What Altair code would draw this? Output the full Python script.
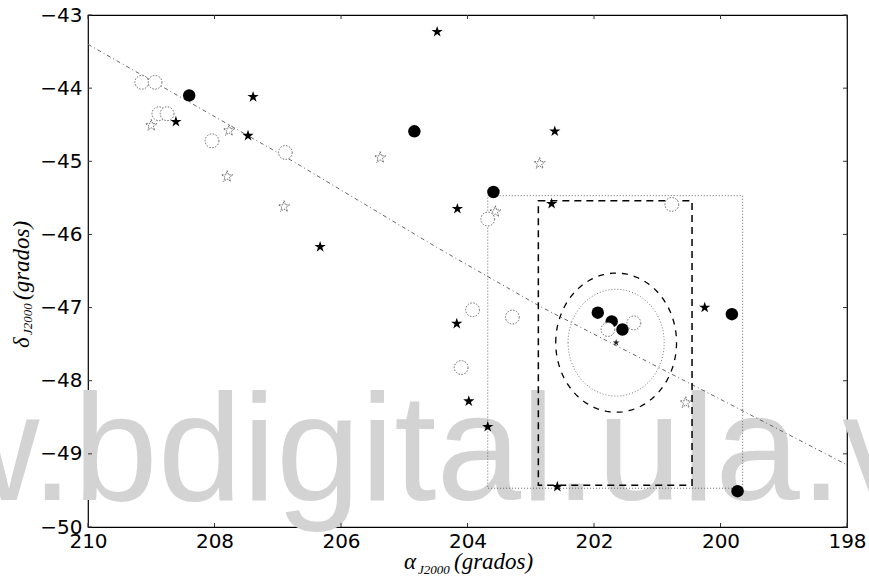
import math
import numpy as np
import pandas as pd
import altair as alt

# ---------------- catalogue positions (degrees, J2000) ----------------
filled_circle_ra = [208.40, 204.84, 203.59, 199.82, 199.73, 201.94, 201.72, 201.55]
filled_circle_dec = [-44.10, -44.59, -45.42, -47.09, -49.51, -47.07, -47.19, -47.30]

open_circle_ra = [209.15, 208.94, 208.88, 208.75, 208.04, 206.88, 203.68,
                  200.77, 203.92, 203.29, 204.10, 201.78, 201.37]
open_circle_dec = [-43.92, -43.92, -44.35, -44.35, -44.72, -44.88, -45.79,
                   -45.59, -47.03, -47.13, -47.82, -47.30, -47.21]

filled_star_ra = [208.61, 207.39, 207.47, 206.33, 204.48, 202.62, 202.67,
                  204.16, 204.17, 200.25, 203.98, 203.68, 202.58]
filled_star_dec = [-44.46, -44.12, -44.65, -46.17, -43.23, -44.59, -45.58,
                   -45.65, -47.22, -47.00, -48.28, -48.63, -49.45]

open_star_ra = [209.00, 207.77, 207.80, 206.90, 205.38, 202.86, 203.56, 200.55]
open_star_dec = [-44.51, -44.58, -45.21, -45.62, -44.95, -45.03, -45.69, -48.30]

# cluster centre
centre_ra = [201.65]
centre_dec = [-47.48]

# circular regions around the centre (RA radius, Dec radius)
region_dashed_r = [0.955, 0.951]
region_dotted_r = [0.76, 0.73]

# rectangular fields: [ra_left, ra_right], [dec_top, dec_bottom]
field_dotted_ra = [203.68, 199.65]
field_dotted_dec = [-45.47, -49.47]
field_dashed_ra = [202.88, 200.45]
field_dashed_dec = [-45.54, -49.43]

# great-circle track
track_ra = [210.0, 209.86, 206.72, 204.48, 202.84, 200.39, 198.0]
track_dec = [-43.40, -43.47, -45.02, -46.18, -46.99, -48.08, -49.15]

x_ticks = [210, 208, 206, 204, 202, 200, 198]
y_ticks = [-50, -49, -48, -47, -46, -45, -44, -43]

W, H = 759, 512

# ---------------- shared scales / axes ----------------
xs = alt.Scale(domain=[198, 210], reverse=True, nice=False, zero=False)
ys = alt.Scale(domain=[-50, -43], nice=False, zero=False)

x_axis = alt.Axis(values=x_ticks, title=None, ticks=False, domain=False, grid=False,
                  labelFont="DejaVu Sans", labelFontSize=20, labelColor="black",
                  labelPadding=4, labelFlush=False, labelOverlap=False, format="d")
y_axis = alt.Axis(values=y_ticks, title=None, ticks=False, domain=False, grid=False,
                  labelFont="DejaVu Sans", labelFontSize=20, labelColor="black",
                  labelPadding=6, labelFlush=False, labelOverlap=False, format="d")


def X(field="x", **kw):
    return alt.X(f"{field}:Q", scale=xs, axis=x_axis, **kw)


def Y(field="y", **kw):
    return alt.Y(f"{field}:Q", scale=ys, axis=y_axis, **kw)


# five-pointed star symbol
pts = []
for k in range(10):
    a = math.radians(-90 + 36 * k)
    r = 1.0 if k % 2 == 0 else 0.382
    pts.append(f"{r * math.cos(a):.3f},{r * math.sin(a):.3f}")
STAR = "M" + "L".join(pts) + "Z"

# ---------------- data frames ----------------
df_fc = pd.DataFrame({"x": filled_circle_ra, "y": filled_circle_dec})
df_oc = pd.DataFrame({"x": open_circle_ra, "y": open_circle_dec})
df_fs = pd.DataFrame({"x": filled_star_ra, "y": filled_star_dec})
df_os = pd.DataFrame({"x": open_star_ra, "y": open_star_dec})
df_c = pd.DataFrame({"x": centre_ra, "y": centre_dec})
df_track = pd.DataFrame({"x": track_ra, "y": track_dec, "o": range(len(track_ra))})


def ellipse(rad):
    t = np.linspace(0, 2 * np.pi, 121)
    return pd.DataFrame({"x": centre_ra[0] + rad[0] * np.cos(t),
                         "y": centre_dec[0] + rad[1] * np.sin(t),
                         "o": np.arange(len(t))})


def box(ra, dec):
    return pd.DataFrame({"x": [ra[0]], "x2": [ra[1]], "y": [dec[0]], "y2": [dec[1]]})


# ---------------- layers ----------------
watermark = alt.Chart(pd.DataFrame({"t": ["www.bdigital.ula.ve"]})).mark_text(
    font="Liberation Sans", fontSize=152, color="#d3d3d3", align="left",
    baseline="alphabetic"
).encode(text="t:N", x=alt.value(-378), y=alt.value(485))

track = alt.Chart(df_track).mark_line(
    color="#666666", strokeWidth=1, strokeDash=[4, 3, 1, 3]
).encode(x=X(), y=Y(), order="o:Q")

rect_dotted = alt.Chart(box(field_dotted_ra, field_dotted_dec)).mark_rect(
    fillOpacity=0, stroke="#666666", strokeWidth=1, strokeDash=[1, 2]
).encode(x=X(), x2="x2:Q", y=Y(), y2="y2:Q")

rect_dashed = alt.Chart(box(field_dashed_ra, field_dashed_dec)).mark_rect(
    fillOpacity=0, stroke="black", strokeWidth=1.5, strokeDash=[7, 5]
).encode(x=X(), x2="x2:Q", y=Y(), y2="y2:Q")

ell_dashed = alt.Chart(ellipse(region_dashed_r)).mark_line(
    color="black", strokeWidth=1.3, strokeDash=[6, 6]
).encode(x=X(), y=Y(), order="o:Q")

ell_dotted = alt.Chart(ellipse(region_dotted_r)).mark_line(
    color="#777777", strokeWidth=1, strokeDash=[1, 2]
).encode(x=X(), y=Y(), order="o:Q")

open_stars = alt.Chart(df_os).mark_point(
    shape=STAR, size=140, filled=False, stroke="#666666", strokeWidth=1,
    strokeDash=[1.5, 1], opacity=1
).encode(x=X(), y=Y())

filled_circles = alt.Chart(df_fc).mark_point(
    shape="circle", size=155, filled=True, color="black", opacity=1
).encode(x=X(), y=Y())

open_circles = alt.Chart(df_oc).mark_point(
    shape="circle", size=190, filled=True, fill="white", stroke="#666666",
    strokeWidth=1, strokeDash=[1.5, 1.5], opacity=1
).encode(x=X(), y=Y())

filled_stars = alt.Chart(df_fs).mark_point(
    shape=STAR, size=140, filled=True, color="black", opacity=1
).encode(x=X(), y=Y())

centre = alt.Chart(df_c).mark_point(
    shape=STAR, size=55, filled=True, color="#222222", opacity=1
).encode(x=X(), y=Y())

# inward tick marks on all four sides
df_xt = pd.DataFrame({"x": x_ticks})
df_yt = pd.DataFrame({"y": y_ticks})
tick_style = dict(color="#333333", strokeWidth=1)
ticks_bottom = alt.Chart(df_xt).mark_rule(**tick_style).encode(
    x=X(), y=alt.value(H), y2=alt.value(H - 4))
ticks_top = alt.Chart(df_xt).mark_rule(**tick_style).encode(
    x=X(), y=alt.value(0), y2=alt.value(4))
ticks_left = alt.Chart(df_yt).mark_rule(**tick_style).encode(
    y=Y(), x=alt.value(0), x2=alt.value(4))
ticks_right = alt.Chart(df_yt).mark_rule(**tick_style).encode(
    y=Y(), x=alt.value(W), x2=alt.value(W - 4))

# axis titles with subscripts
serif = dict(font="Liberation Serif", fontStyle="italic", color="black",
             align="left", baseline="alphabetic")


def label(text, x, y, size, angle=0):
    return alt.Chart(pd.DataFrame({"t": [text]})).mark_text(
        fontSize=size, angle=angle, **serif
    ).encode(text="t:N", x=alt.value(x), y=alt.value(y))


xt_main = label("α", 316, 554, 23)
xt_sub = label("J2000", 330, 559, 13)
xt_tail = label("(grados)", 366, 554, 23)

yt_main = label("δ", -59, 333, 23, 270)
yt_sub = label("J2000", -56, 320, 13, 270)
yt_tail = label("(grados)", -59, 285, 23, 270)

chart = alt.layer(
    watermark, track, rect_dotted, rect_dashed, ell_dotted, ell_dashed,
    open_stars, filled_circles, open_circles, filled_stars, centre,
    ticks_bottom, ticks_top, ticks_left, ticks_right,
    xt_main, xt_sub, xt_tail, yt_main, yt_sub, yt_tail
).properties(
    width=W, height=H,
    autosize=alt.AutoSizeParams(type="none"),
    padding={"left": 88, "top": 15, "right": 22, "bottom": 51},
    background="white"
).configure_view(stroke="black", strokeWidth=1.2)

chart.save("out.html", embed_options={"renderer": "svg", "actions": False})
